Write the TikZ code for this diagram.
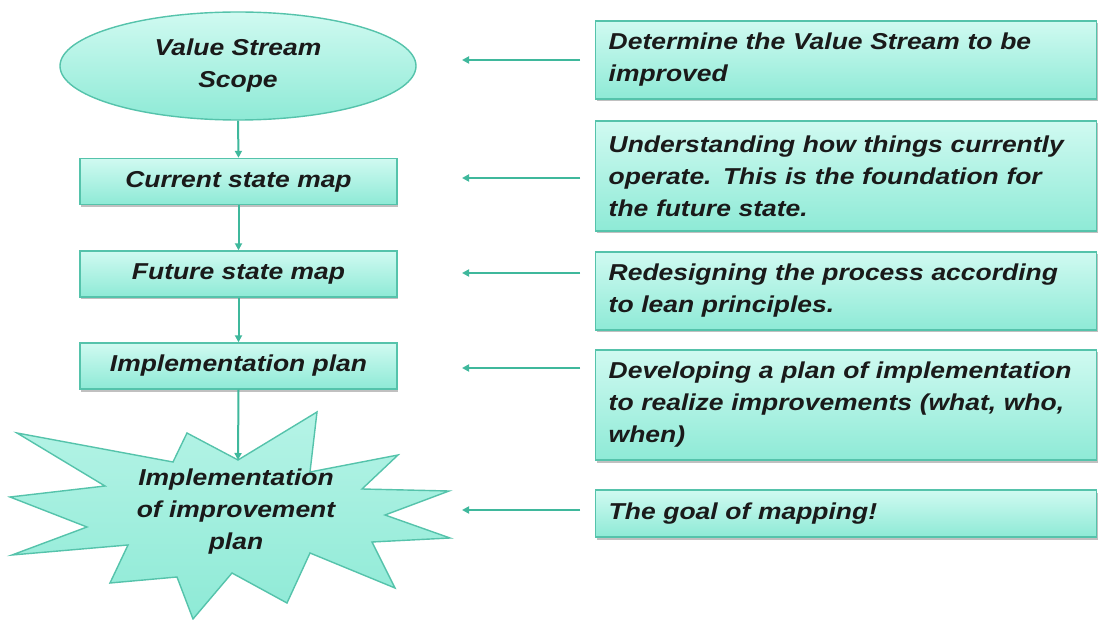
\documentclass[tikz,border=0pt]{standalone}
\usepackage{fontspec}
\newfontfamily\lblfont[FakeStretch=1.15]{Liberation Sans}
\usetikzlibrary{shapes.geometric,shadows,arrows.meta}
\definecolor{aquatop}{HTML}{D0FAF1}
\definecolor{aquabot}{HTML}{8EEAD6}
\definecolor{edgeteal}{HTML}{55C3AB}
\definecolor{linkteal}{HTML}{3FB89C}
\definecolor{ink}{HTML}{1A1A1A}

\begin{document}
\begin{tikzpicture}[x=1pt,y=-1pt,
  lbl/.style={font=\lblfont\bfseries\itshape\fontsize{23}{32}\selectfont, text=ink},
  aqua/.style={draw=edgeteal, line width=1.4pt, top color=aquatop, bottom color=aquabot},
  shade/.style={drop shadow={shadow xshift=1pt, shadow yshift=-2.5pt, opacity=.35, fill=black!70}},
  stepbox/.style={aqua, shade, lbl, rectangle, minimum width=317, minimum height=46, inner sep=0pt},
  notebox/.style={aqua, shade, lbl, rectangle, anchor=west, text width=475, inner xsep=13, inner ysep=0pt, align=left},
  link/.style={draw=linkteal, line width=2pt, -{Triangle[length=7pt,width=7pt]}}
]
\useasboundingbox (0,0) rectangle (1098,620);
\fill[white] (0,0) rectangle (1098,620);

% left column: the mapping steps
\node[aqua, lbl, ellipse, minimum width=356, minimum height=108, inner sep=0pt, align=center]
  (scope) at (238,66) {Value Stream\\Scope};
\node[stepbox] (current) at (238.5,181.5) {Current state map};
\node[stepbox] (future) at (238.5,274) {Future state map};
\node[stepbox] (plan) at (238.5,366) {Implementation plan};

% starburst for the final step
\draw[draw=edgeteal, line width=1.4pt, top color=aquatop!60!aquabot, bottom color=aquabot]
  (238,460) -- (317,412) -- (310,472) -- (398,455) -- (362,489) -- (449,491)
  -- (385,515) -- (450,538) -- (372,542) -- (395,588) -- (310,553) -- (287,603)
  -- (232,573) -- (193,619) -- (177,577) -- (110,583) -- (128,545) -- (12,555)
  -- (87,527) -- (10,497) -- (105,486) -- (17,433) -- (173,462) -- (187,433) -- cycle;
\coordinate (notch) at (238,460);
\node[lbl, align=center] (burst) at (236,512) {Implementation\\of improvement\\plan};

% right column: explanations
\node[notebox, minimum height=78] (n1) at (595,60)
  {Determine the Value Stream to be\\improved};
\node[notebox, minimum height=110] (n2) at (595,176)
  {Understanding how things currently\\operate. This is the foundation for\\the future state.};
\node[notebox, minimum height=78] (n3) at (595,291)
  {Redesigning the process according\\to lean principles.};
\node[notebox, minimum height=110] (n4) at (595,405)
  {Developing a plan of implementation\\to realize improvements (what, who,\\when)};
\node[notebox, minimum height=47] (n5) at (595,513.5)
  {The goal of mapping!};

% flow down the left column
\draw[link] (scope.south) -- (current.north);
\draw[link] (current.south) -- (future.north);
\draw[link] (future.south) -- (plan.north);
\draw[link] (plan.south) -- (notch);

% pointers from the explanations
\foreach \i/\yy in {1/60,2/178,3/273,4/368,5/510}{
  \coordinate (s\i) at (580,\yy);
  \coordinate (e\i) at (462,\yy);
  \draw[link] (s\i) -- (e\i);
}
\end{tikzpicture}
\end{document}
